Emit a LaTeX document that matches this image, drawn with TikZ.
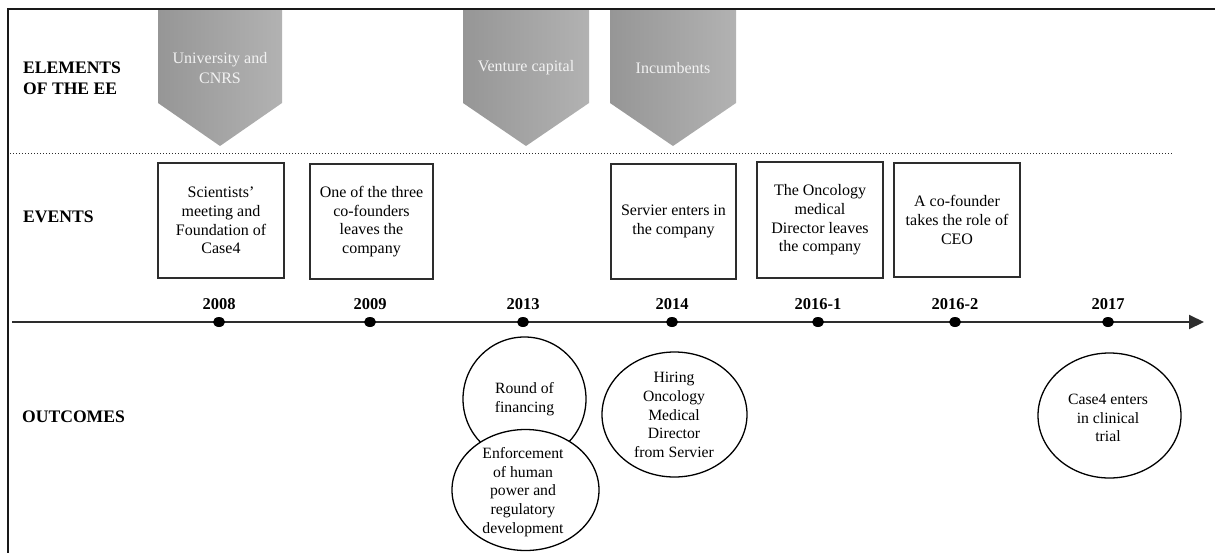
\documentclass[tikz,border=0pt]{standalone}
\usepackage{fontspec}
\setmainfont{Liberation Serif}
\usetikzlibrary{shapes.geometric,arrows.meta}
\definecolor{chevdark}{RGB}{150,150,150}
\definecolor{chevlight}{RGB}{178,178,178}
\definecolor{chevtext}{RGB}{242,242,242}
\definecolor{framegray}{RGB}{25,25,25}
\definecolor{linegray}{RGB}{45,45,45}
\begin{document}
\begin{tikzpicture}[x=1pt,y=-1pt,
  header/.style={font=\fontsize{17.6}{21}\selectfont\bfseries, anchor=west, align=left, inner sep=0},
  year/.style={font=\fontsize{16.5}{19}\selectfont\bfseries, inner sep=0},
  eventbox/.style={draw=linegray, line width=1.4pt, minimum height=115pt, align=center,
                   font=\fontsize{16}{18.6}\selectfont, inner sep=0},
  dot/.style={ellipse, fill=black, minimum width=12pt, minimum height=10pt, inner sep=0},
  outcome/.style={ellipse, draw=black, line width=1.3pt, fill=white, inner sep=0},
  outtext/.style={align=center, font=\fontsize{15.7}{18.8}\selectfont, inner sep=0},
  chevron/.style={left color=chevdark, right color=chevlight, draw=none},
  chevlabel/.style={text=chevtext, align=center, font=\fontsize{16}{20}\selectfont, inner sep=0},
]
\useasboundingbox (0,0) rectangle (1215,552);
\clip (0,0) rectangle (1215,552);

% frame: top and left rules
\coordinate (fTL) at (8,9);
\coordinate (fTR) at (1215,9);
\coordinate (fBL) at (8,553);

% chevrons for the elements of the ecosystem
\shade[chevron] (158,10) -- (282,10) -- (282,103) -- (220,146) -- (158,103) -- cycle;
\shade[chevron] (463,10) -- (589,10) -- (589,103) -- (526,146) -- (463,103) -- cycle;
\shade[chevron] (610,10) -- (736,10) -- (736,103) -- (673,146) -- (610,103) -- cycle;
\node[chevlabel] (elUni) at (220,68) {University and\\CNRS};
\node[chevlabel] (elVC) at (526,68) {Venture capital};
\node[chevlabel] (elInc) at (673,68) {Incumbents};

\draw[line width=2.5pt, framegray] (fBL) -- (fTL) -- (fTR);

% row separator
\coordinate (sepL) at (10,153);
\coordinate (sepR) at (1172,153);
\draw[dotted, line width=1pt, linegray] (sepL) -- (sepR);

% row headers
\node[header] (hEl) at (23,78) {ELEMENTS\\OF THE EE};
\node[header] (hEv) at (23,217) {EVENTS};
\node[header] (hOut) at (22,417) {OUTCOMES};

% events
\node[eventbox, minimum width=126pt] (ev1) at (221,220.5) {Scientists’\\meeting and\\Foundation of\\Case4};
\node[eventbox, minimum width=123pt] (ev2) at (371.5,221.5) {One of the three\\co-founders\\leaves the\\company};
\node[eventbox, minimum width=125pt] (ev3) at (673.5,221.5) {Servier enters in\\the company};
\node[eventbox, minimum width=126pt, minimum height=116pt] (ev4) at (820,220) {The Oncology\\medical\\Director leaves\\the company};
\node[eventbox, minimum width=126pt, minimum height=114pt] (ev5) at (957,220) {A co-founder\\takes the role of\\CEO};

% timeline
\coordinate (tlL) at (12,322);
\coordinate (tlR) at (1204,322);
\draw[line width=2pt, linegray, -{Triangle[length=15pt,width=14pt]}] (tlL) -- (tlR);

\foreach \x/\lab/\nm in {219/2008/a, 370/2009/b, 523/2013/c, 672/2014/d, 818/2016-1/e, 955/2016-2/f, 1108/2017/g}{
  \node[dot] (dot\nm) at (\x,322) {};
  \node[year] (yr\nm) at (\x,304) {\lab};
}

% outcomes
\node[outcome, minimum width=123pt, minimum height=124pt] (oc1) at (524.5,399) {};
\node[outtext] (oc1t) at (oc1.center) {Round of\\financing};
\node[outcome, minimum width=147pt, minimum height=121pt] (oc2) at (525.5,490) {};
\node[outtext] (oc2t) at (523,492) {Enforcement\\of human\\power and\\regulatory\\development};
\node[outcome, minimum width=145pt, minimum height=125pt] (oc3) at (674.5,414.5) {};
\node[outtext] (oc3t) at (674,415) {Hiring\\Oncology\\Medical\\Director\\from Servier};
\node[outcome, minimum width=143pt, minimum height=125pt] (oc4) at (1109.5,415.5) {};
\node[outtext] (oc4t) at (1108,418) {Case4 enters\\in clinical\\trial};
\end{tikzpicture}
\end{document}
